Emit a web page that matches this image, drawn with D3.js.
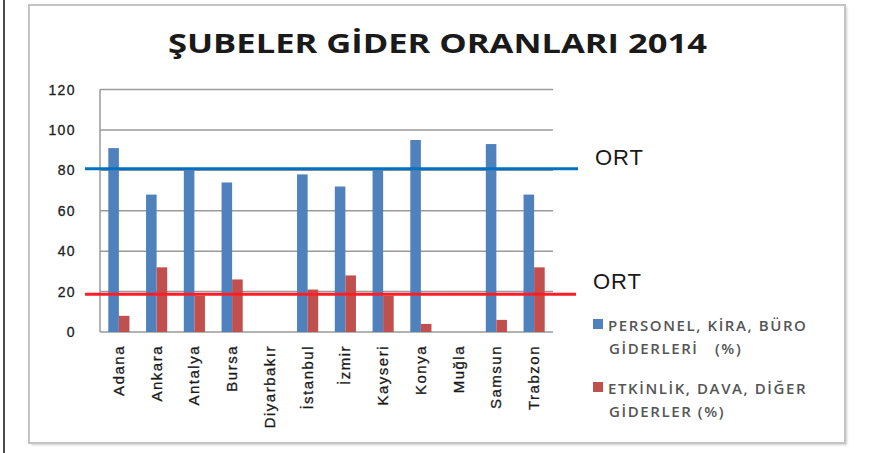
<!DOCTYPE html>
<html>
<head>
<meta charset="utf-8">
<script src="https://cdn.jsdelivr.net/npm/d3@7"></script>
<style>
  body { margin: 0; background: #fff; }
  svg { display: block; }
</style>
</head>
<body>
<svg id="chart" width="869" height="453"></svg>
<script>
// data
let categories = ["Adana", "Ankara", "Antalya", "Bursa", "Diyarbakır", "İstanbul", "İzmir", "Kayseri", "Konya", "Muğla", "Samsun", "Trabzon"];
let personelValues = [91, 68, 80, 74, null, 78, 72, 80, 95, null, 93, 68];
let etkinlikValues = [8, 32, 18, 26, null, 21, 28, 18, 4, null, 6, 32];
let ortValues = [80.8, 18.7];
let yTicks = [0, 20, 40, 60, 80, 100, 120];
let seriesNames = ["PERSONEL, KİRA, BÜRO GİDERLERİ (%)", "ETKİNLİK, DAVA, DİĞER GİDERLER (%)"];
let legendLines = [["PERSONEL, KİRA, BÜRO", "GİDERLERİ   (%)"], ["ETKİNLİK, DAVA, DİĞER", "GİDERLER (%)"]];
let title = "ŞUBELER GİDER ORANLARI 2014";

let colors = ["#4f81bd", "#c0504d"];
let ortColors = ["#0070c0", "#ff1e28"];

let svg = d3.select("#chart");

let xScale = d3.scaleBand()
    .domain(categories)
    .range([100, 553])
    .paddingInner(0.44)
    .paddingOuter(0.22);

let xInner = d3.scaleBand()
    .domain(seriesNames)
    .range([0, xScale.bandwidth()]);

let yScale = d3.scaleLinear()
    .domain([0, 120])
    .range([332, 89.5]);

// left page edge line
svg.append("line")
    .attr("x1", 4).attr("x2", 4)
    .attr("y1", 0).attr("y2", 453)
    .attr("stroke", "#111")
    .attr("stroke-width", 1.5);

// chart area with soft shadow
let defs = svg.append("defs");
defs.append("filter").attr("id", "blur")
    .append("feGaussianBlur").attr("stdDeviation", 1.2);

svg.append("rect")
    .attr("x", 31).attr("y", 7)
    .attr("width", 816).attr("height", 438)
    .attr("fill", "#cfcfcf")
    .attr("filter", "url(#blur)");

svg.append("rect")
    .attr("x", 29).attr("y", 5)
    .attr("width", 816).attr("height", 438)
    .attr("fill", "#fff")
    .attr("stroke", "#c4c4c4")
    .attr("stroke-width", 2);

// title
svg.append("text")
    .attr("x", 168)
    .attr("y", 53)
    .attr("textLength", 539)
    .attr("lengthAdjust", "spacingAndGlyphs")
    .style("font-family", "'Open Sans', sans-serif")
    .style("font-weight", 700)
    .style("font-size", "26px")
    .attr("fill", "#1a1a1a")
    .text(title);

// grid
svg.append("g")
    .selectAll("line")
    .data(yTicks)
    .enter()
    .append("line")
    .attr("x1", 100)
    .attr("x2", 553)
    .attr("y1", d => yScale(d))
    .attr("y2", d => yScale(d))
    .attr("stroke", "#9a9a9a")
    .attr("stroke-width", 1.5);

svg.append("line")
    .attr("x1", 100).attr("x2", 100)
    .attr("y1", yScale(120)).attr("y2", yScale(0))
    .attr("stroke", "#9a9a9a")
    .attr("stroke-width", 1.5);

// y labels
svg.append("g")
    .selectAll("text")
    .data(yTicks)
    .enter()
    .append("text")
    .attr("x", 76)
    .attr("y", d => yScale(d) + 5)
    .attr("text-anchor", "end")
    .style("font-family", "'Liberation Sans', Arial, sans-serif")
    .style("font-size", "14px")
    .style("letter-spacing", "1.4px")
    .attr("fill", "#222")
    .attr("stroke", "#222")
    .attr("stroke-width", 0.3)
    .text(d => d);

// bars
let allSeries = [personelValues, etkinlikValues];
allSeries.forEach((vals, s) => {
    svg.append("g")
        .selectAll("rect")
        .data(categories.map((c, i) => ({c: c, v: vals[i]})).filter(d => d.v != null))
        .enter()
        .append("rect")
        .attr("x", d => xScale(d.c) + xInner(seriesNames[s]))
        .attr("y", d => yScale(d.v))
        .attr("width", xInner.bandwidth())
        .attr("height", d => yScale(0) - yScale(d.v))
        .attr("fill", colors[s]);
});

// x labels
svg.append("g")
    .selectAll("text")
    .data(categories)
    .enter()
    .append("text")
    .attr("transform", d => "translate(" + (xScale(d) + xScale.bandwidth() / 2 + 5) + "," + 345 + ") rotate(-90)")
    .attr("text-anchor", "end")
    .style("font-family", "'Liberation Sans', Arial, sans-serif")
    .style("font-size", "15px")
    .style("letter-spacing", "1.5px")
    .attr("fill", "#1a1a1a")
    .attr("stroke", "#1a1a1a")
    .attr("stroke-width", 0.3)
    .text(d => d);

// ORT lines
let ortEnds = [578, 576];
ortValues.forEach((v, i) => {
    svg.append("line")
        .attr("x1", 85).attr("x2", ortEnds[i])
        .attr("y1", yScale(v)).attr("y2", yScale(v))
        .attr("stroke", ortColors[i])
        .attr("stroke-width", 3);
});

svg.append("g")
    .selectAll("text")
    .data(ortValues)
    .enter()
    .append("text")
    .attr("x", (d, i) => i ? 593 : 595)
    .attr("y", (d, i) => i ? 289 : 165)
    .style("font-family", "'Liberation Sans', Arial, sans-serif")
    .style("font-size", "22px")
    .style("letter-spacing", "1px")
    .attr("fill", "#1a1a1a")
    .text("ORT");

// legend
let legend = svg.append("g")
    .selectAll("g")
    .data(seriesNames)
    .enter()
    .append("g")
    .attr("transform", (d, i) => "translate(593," + (319 + i * 63) + ")");

legend.append("rect")
    .attr("width", 10)
    .attr("height", 10)
    .attr("fill", (d, i) => colors[i]);

legend.each(function(d, i) {
    d3.select(this)
        .selectAll("text")
        .data(legendLines[i])
        .enter()
        .append("text")
        .attr("x", (t, j) => j ? 16 : 15)
        .attr("y", (t, j) => 12 + j * 23)
        .style("font-family", "'Open Sans', sans-serif")
        .style("font-size", "15px")
        .style("font-weight", 600)
        .style("letter-spacing", "1.6px")
        .style("white-space", "pre")
        .attr("fill", "#555")
        .text(t => t);
});
</script>
</body>
</html>
